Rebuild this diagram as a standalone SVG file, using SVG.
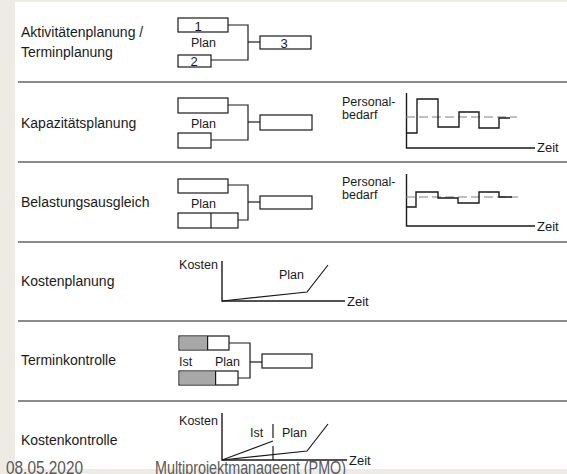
<svg xmlns="http://www.w3.org/2000/svg" width="567" height="474" viewBox="0 0 567 474">
<style>
.bg{fill:#eeebe5}
.lbl{font-family:"Liberation Sans",Arial,sans-serif;font-size:14px;fill:#1a1a1a}
.sm{font-family:"Liberation Sans",Arial,sans-serif;font-size:12.5px;fill:#1a1a1a}
.num{font-family:"Liberation Sans",Arial,sans-serif;font-size:13px;fill:#1a1a1a;text-anchor:middle}
.box{fill:#fff;stroke:#1a1a1a;stroke-width:1.2}
.ist{fill:#a8a8a8;stroke:none}
.ln{fill:none;stroke:#1a1a1a;stroke-width:1.2}
.ax{fill:none;stroke:#1a1a1a;stroke-width:1.4}
.sep{stroke:#1a1a1a;stroke-width:1.2}
.dash{fill:none;stroke:#808080;stroke-width:1;stroke-dasharray:9 4}
.foot{font-family:"Liberation Sans",Arial,sans-serif;font-size:18px;fill:#595959}
</style>
<rect class="bg" x="0" y="0" width="567" height="474"/>
<rect x="15" y="2" width="552" height="467" fill="#fff"/>

<g id="separators">
<line class="sep" x1="18" y1="82" x2="567" y2="82"/>
<line class="sep" x1="18" y1="162" x2="567" y2="162"/>
<line class="sep" x1="18" y1="242" x2="567" y2="242"/>
<line class="sep" x1="18" y1="321" x2="567" y2="321"/>
<line class="sep" x1="18" y1="401" x2="567" y2="401"/>
</g>

<g id="row1">
<text class="lbl" x="21" y="37">Aktivitätenplanung /</text>
<text class="lbl" x="21" y="57">Terminplanung</text>
<g id="r1-box1"><rect class="box" x="178" y="18" width="50" height="14"/><text class="num" x="198" y="30.5">1</text></g>
<g id="r1-box2"><rect class="box" x="178" y="55" width="33" height="12"/><text class="num" x="194" y="66">2</text></g>
<g id="r1-box3"><rect class="box" x="260" y="36" width="51" height="13"/><text class="num" x="284" y="47.5">3</text></g>
<text class="sm" x="191" y="47">Plan</text>
</g>

<g id="row2">
<text class="lbl" x="21" y="128">Kapazitätsplanung</text>
<rect class="box" x="178" y="98" width="50" height="15"/>
<rect class="box" x="178" y="133" width="33" height="15"/>
<rect class="box" x="260" y="115" width="52" height="15"/>
<text class="sm" x="191" y="128">Plan</text>
<g id="chart1">
<text class="sm" x="342" y="106">Personal-</text>
<text class="sm" x="342" y="119">bedarf</text>
<polyline class="ax" points="406.5,93 406.5,148 535,148"/>
<text class="lbl" x="537" y="152" style="font-size:13px">Zeit</text>
<line class="dash" x1="406" y1="117" x2="517" y2="117"/>
<polyline class="ax" points="406,133 417,133 417,99 438,99 438,127 459,127 459,112 479,112 479,128 499,128 499,118 510,118"/>
</g>
</g>

<g id="row3">
<text class="lbl" x="21" y="207">Belastungsausgleich</text>
<rect class="box" x="178" y="179" width="50" height="14"/>
<rect class="box" x="178" y="213" width="60" height="15"/>
<line class="ln" x1="211" y1="213" x2="211" y2="228"/>
<rect class="box" x="260" y="196" width="52" height="13"/>
<text class="sm" x="191" y="208">Plan</text>
<g id="chart2">
<text class="sm" x="342" y="186">Personal-</text>
<text class="sm" x="342" y="199">bedarf</text>
<polyline class="ax" points="406.5,174 406.5,226 535,226"/>
<text class="lbl" x="537" y="231" style="font-size:13px">Zeit</text>
<line class="dash" x1="406" y1="197" x2="518" y2="197"/>
<polyline class="ax" points="406,207 416,207 416,192 438,192 438,198 458,198 458,203 479,203 479,192 499,192 499,197 512,197"/>
</g>
</g>

<g id="row4">
<text class="lbl" x="21" y="286">Kostenplanung</text>
<text class="sm" x="218" y="269" text-anchor="end">Kosten</text>
<polyline class="ax" points="222,261 222,301 345,301"/>
<text class="lbl" x="347" y="306" style="font-size:13px">Zeit</text>
<text class="sm" x="279" y="279">Plan</text>
<polyline class="ln" points="222,301 307,292 328,265"/>
</g>

<g id="row5">
<text class="lbl" x="21" y="365">Terminkontrolle</text>
<rect class="box" x="179" y="336" width="50" height="14"/>
<rect class="ist" x="179.6" y="336.6" width="28" height="12.8"/>
<rect class="box" x="179" y="371" width="59" height="14"/>
<rect class="ist" x="179.6" y="371.6" width="36" height="12.8"/>
<line class="ln" x1="207.6" y1="336" x2="207.6" y2="350"/>
<line class="ln" x1="215.6" y1="371" x2="215.6" y2="385"/>
<text class="sm" x="179" y="366">Ist</text>
<text class="sm" x="215" y="366">Plan</text>
<rect class="box" x="262" y="354" width="50" height="14"/>
</g>

<g id="row6">
<text class="lbl" x="21" y="445">Kostenkontrolle</text>
<text class="sm" x="218" y="425" text-anchor="end">Kosten</text>
<polyline class="ax" points="222,413 222,460 347,460"/>
<text class="sm" x="250" y="437">Ist</text>
<text class="sm" x="282" y="437">Plan</text>
<line class="ln" x1="273" y1="424" x2="273" y2="438"/>
<line class="ln" x1="273" y1="446" x2="273" y2="460"/>
<polyline class="ln" points="222,460 273,441"/>
<polyline class="ln" points="222,460 307,451 328,424"/>
<text class="lbl" x="349" y="465" style="font-size:13px">Zeit</text>
</g>

<g id="connectors">
<polyline class="ln" points="228,25 248,25 248,60 211,60"/>
<line class="ln" x1="248" y1="42" x2="260" y2="42"/>
<polyline class="ln" points="228,105 248,105 248,140 211,140"/>
<line class="ln" x1="248" y1="122" x2="260" y2="122"/>
<polyline class="ln" points="228,185 248,185 248,220 238,220"/>
<line class="ln" x1="248" y1="202" x2="260" y2="202"/>
<polyline class="ln" points="229,343 250,343 250,378 238,378"/>
<line class="ln" x1="250" y1="362" x2="262" y2="362"/>
</g>

<g id="footer">
<text class="foot" x="6" y="474" textLength="77" lengthAdjust="spacingAndGlyphs">08.05.2020</text>
<text class="foot" x="155" y="474" textLength="191" lengthAdjust="spacingAndGlyphs">Multiprojektmanageent (PMO)</text>
</g>
</svg>
